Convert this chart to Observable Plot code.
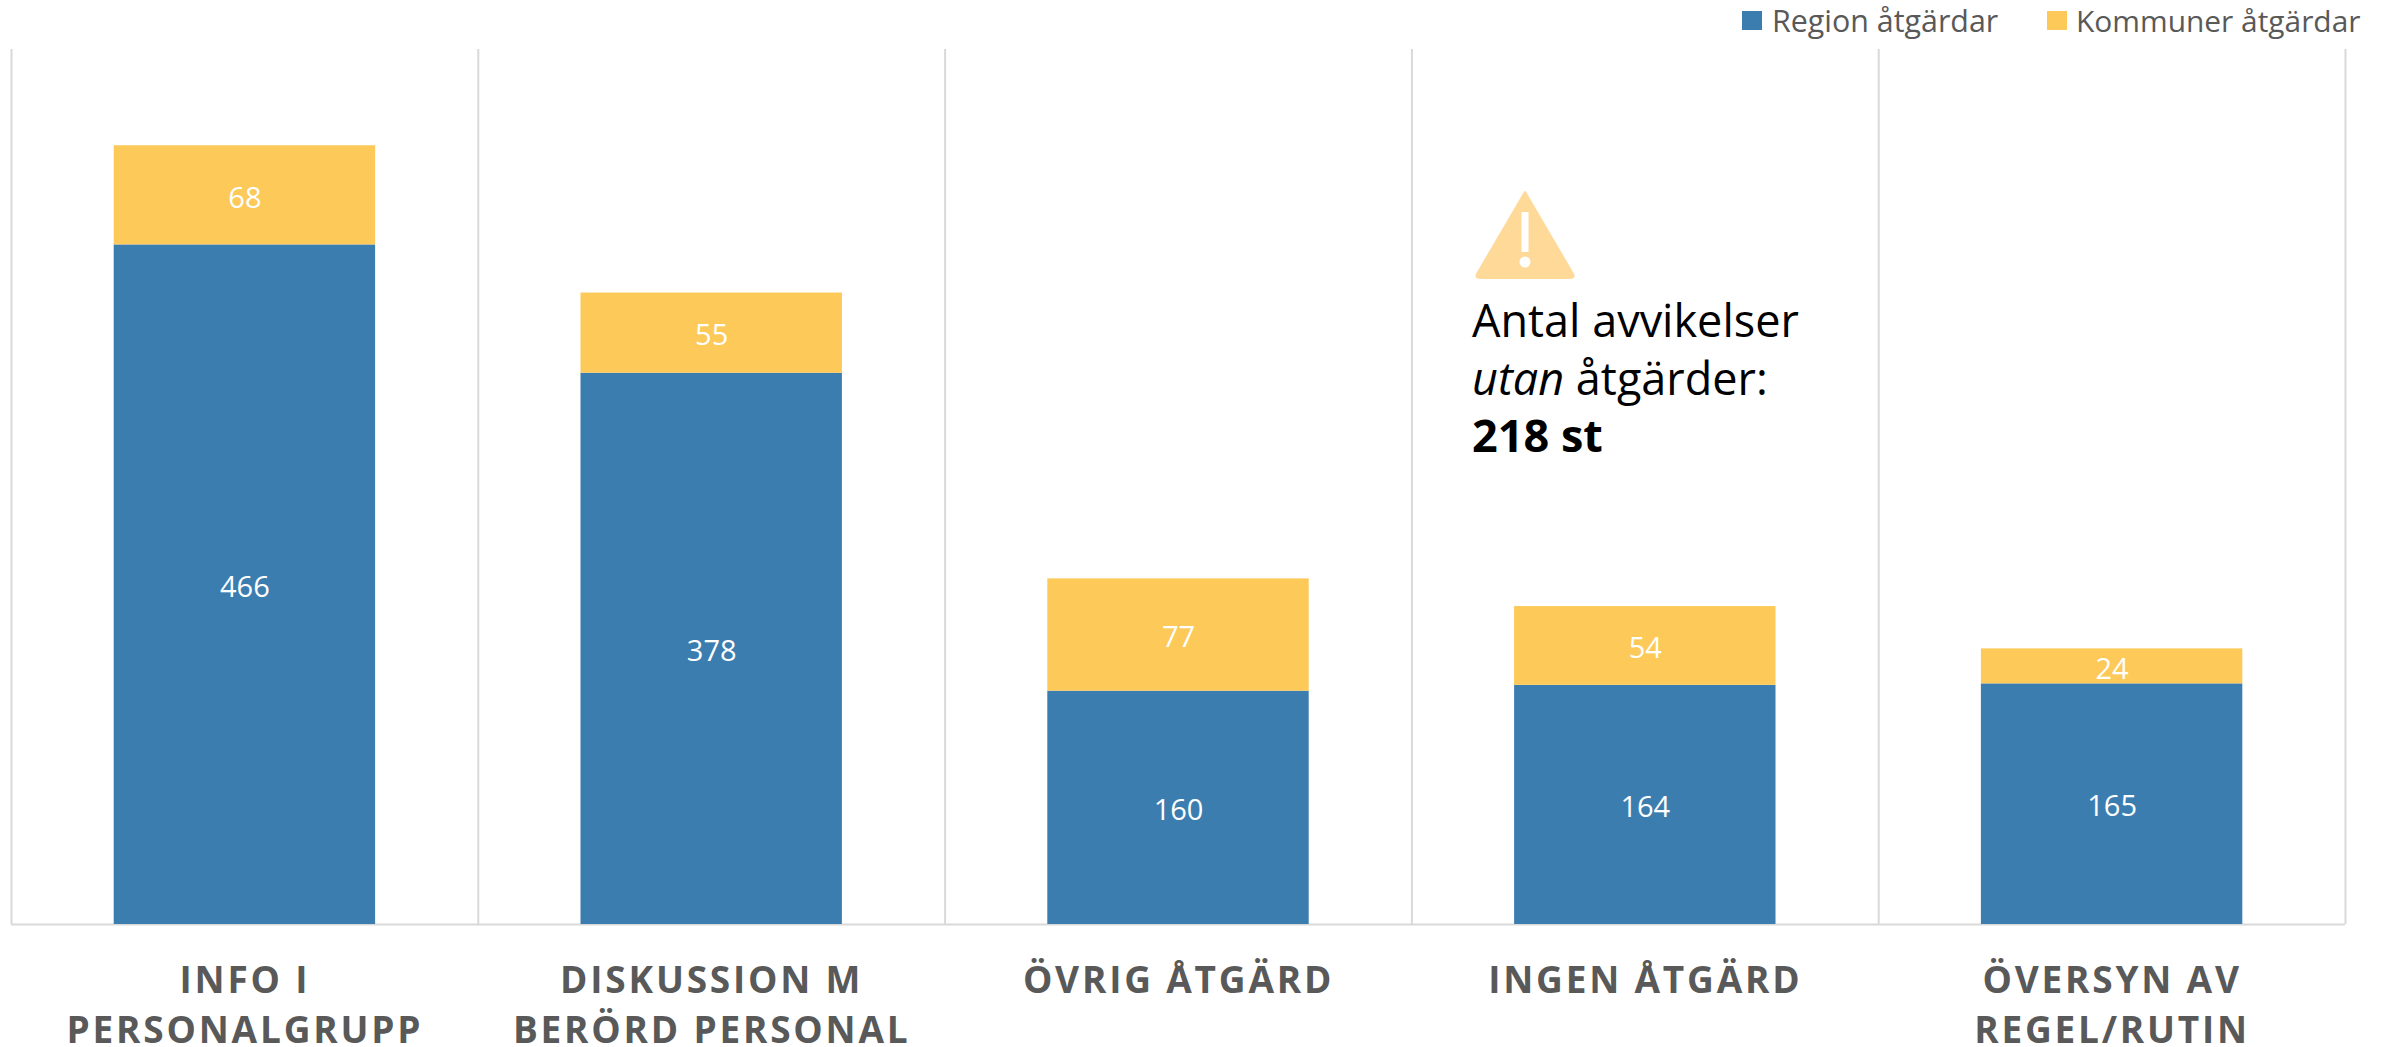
<!DOCTYPE html>
<html>
<head>
<meta charset="utf-8">
<script src="https://cdn.jsdelivr.net/npm/d3@7"></script>
<script src="https://cdn.jsdelivr.net/npm/@observablehq/plot@0.6"></script>
<style>
html,body{margin:0;padding:0;background:#fff;font-family:"Open Sans",sans-serif;}
#wrap{position:relative;width:2384px;height:1047px;overflow:hidden;}
.leg{position:absolute;top:0;height:49px;line-height:41px;font-size:30.4px;color:#595959;white-space:nowrap;}
.sw{position:absolute;top:11px;width:20px;height:19px;}
#note{position:absolute;left:1472px;top:291px;font-size:45px;line-height:57.5px;color:#000;white-space:nowrap;}
#tri{position:absolute;left:1470px;top:186px;}
svg [aria-label="x-axis tick label"] text{letter-spacing:2.8px;}
</style>
</head>
<body>
<div id="wrap">
  <span class="sw" style="left:1742px;background:#3C7DB0"></span>
  <span class="leg" style="left:1772px">Region åtgärdar</span>
  <span class="sw" style="left:2047px;background:#FDC958"></span>
  <span class="leg" style="left:2076px;font-size:29.9px">Kommuner åtgärdar</span>
  <div id="chart" style="position:absolute;left:0;top:49px"></div>
  <svg id="tri" width="110" height="100" viewBox="0 0 110 100">
    <path d="M55 6 L103 88 Q105 92 100 92 L10 92 Q5 92 7 88 Z" fill="#FED998" stroke="#FED998" stroke-width="2" stroke-linejoin="round"/>
    <rect x="51.5" y="26" width="7" height="40" fill="#fff"/>
    <ellipse cx="55" cy="76" rx="5.5" ry="5.5" fill="#fff"/>
  </svg>
  <div id="note">Antal avvikelser<br><i>utan</i> åtgärder:<br><b>218 st</b></div>
</div>
<script>
const categories = ["INFO I\nPERSONALGRUPP", "DISKUSSION M\nBERÖRD PERSONAL", "ÖVRIG ÅTGÄRD", "INGEN ÅTGÄRD", "ÖVERSYN AV\nREGEL/RUTIN"];
const regionValues = [466, 378, 160, 164, 165];
const kommunerValues = [68, 55, 77, 54, 24];
const seriesNames = ["Region åtgärdar", "Kommuner åtgärdar"];
const seriesColors = ["#3C7DB0", "#FDC958"];

const rows = [
  ...categories.map((c, i) => ({category: c, series: seriesNames[0], value: regionValues[i]})),
  ...categories.map((c, i) => ({category: c, series: seriesNames[1], value: kommunerValues[i]}))
];
const halfStep = (2384 - 11 - 39) / categories.length / 2;

const plot = Plot.plot({
  width: 2384,
  height: 998,
  marginTop: 0,
  marginBottom: 123,
  marginLeft: 11,
  marginRight: 39,
  style: {fontFamily: '"Open Sans", sans-serif', background: "transparent"},
  x: {domain: categories, paddingInner: 0.44, paddingOuter: 0.22, round: false, label: null},
  y: {domain: [0, 600], axis: null},
  color: {domain: seriesNames, range: seriesColors},
  marks: [
    Plot.ruleX(categories, {x: d => d, dx: -halfStep, stroke: "#D9D9D9", strokeWidth: 2}),
    Plot.ruleX(categories.slice(-1), {x: d => d, dx: halfStep, stroke: "#D9D9D9", strokeWidth: 2}),
    Plot.ruleY([0], {stroke: "#D9D9D9", strokeWidth: 2}),
    Plot.barY(rows, Plot.stackY({x: "category", y: "value", fill: "series", order: null})),
    Plot.text(rows, Plot.stackY({x: "category", y: "value", z: "series", order: null, text: d => String(d.value), fill: "#fff", fontSize: 29, dy: 3})),
    Plot.axisX({tickSize: 0, tickPadding: 33, fontSize: 37, fontWeight: 700, color: "#595959", lineHeight: 1.35, lineAnchor: "top", label: null})
  ]
});
document.getElementById("chart").appendChild(plot);
</script>
</body>
</html>
